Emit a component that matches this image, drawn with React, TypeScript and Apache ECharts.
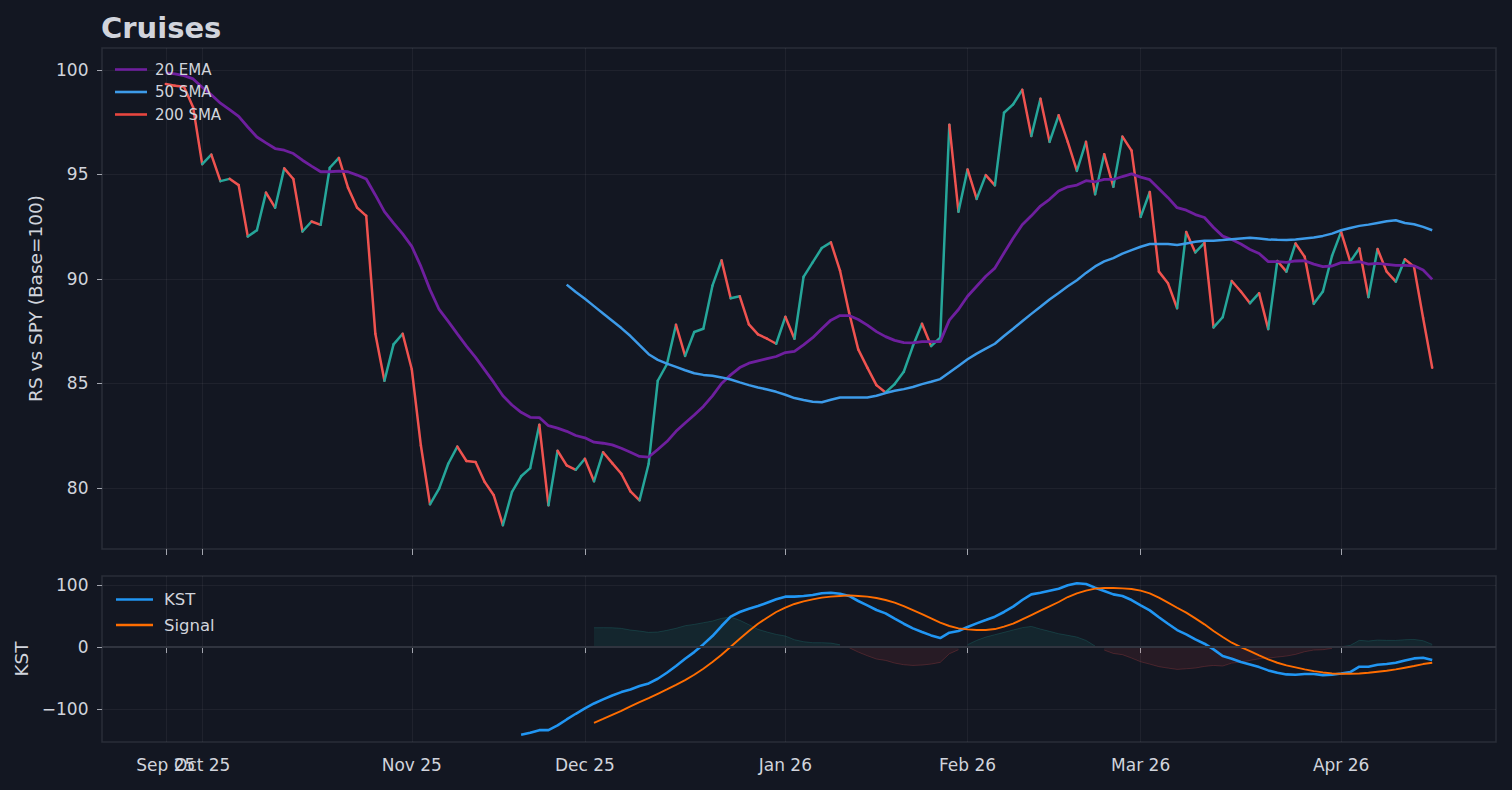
import React, { useEffect, useRef } from "react";
import * as echarts from "echarts";

// ---------- data (trading-day index 0 = first bar) ----------
const PAD = 7;
const N = 140;
const CATEGORIES = Array.from({ length: PAD + N + PAD }, (_, k) => `d${k - PAD}`);

const TICK_INDEX = [0, 4, 27, 46, 68, 88, 107, 129];
const TICK_LABELS = ["Sep 25", "Oct 25", "Nov 25", "Dec 25", "Jan 26", "Feb 26", "Mar 26", "Apr 26"];
const OVERLAP_TICK = 4; // "Oct 25" sits on top of "Sep 25"
const Y_TICKS_RS = [80, 85, 90, 95, 100];
const Y_TICKS_KST = [-100, 0, 100];

const RS = [
  99.33, 99.24, 99.2, 98.22, 95.49, 95.95, 94.68, 94.79, 94.49, 92.03,
  92.33, 94.13, 93.41, 95.29, 94.78, 92.27, 92.75, 92.59, 95.32, 95.79,
  94.37, 93.41, 93.02, 87.38, 85.13, 86.87, 87.38, 85.68, 82.03, 79.22,
  79.97, 81.16, 81.98, 81.29, 81.24, 80.29, 79.65, 78.22, 79.81, 80.56,
  80.95, 83.02, 79.17, 81.78, 81.08, 80.87, 81.4, 80.32, 81.71, 81.19,
  80.68, 79.84, 79.41, 81.16, 85.13, 85.92, 87.81, 86.32, 87.46, 87.62,
  89.68, 90.89, 89.08, 89.17, 87.83, 87.35, 87.14, 86.9, 88.19, 87.14,
  90.1, 90.79, 91.48, 91.75, 90.4, 88.38, 86.63, 85.76, 84.92, 84.57,
  84.97, 85.56, 86.79, 87.86, 86.79, 87.19, 97.38, 93.22, 95.24, 93.83,
  94.97, 94.48, 97.95, 98.35, 99.05, 96.84, 98.62, 96.56, 97.83, 96.56,
  95.17, 96.56, 94.05, 95.97, 94.41, 96.81, 96.14, 92.97, 94.16, 90.35,
  89.79, 88.6, 92.25, 91.27, 91.73, 87.68, 88.17, 89.9, 89.4, 88.84,
  89.32, 87.6, 90.86, 90.35, 91.7, 91.06, 88.81, 89.4, 91.1, 92.25,
  90.83, 91.46, 89.13, 91.43, 90.35, 89.87, 90.94, 90.59, 88.13, 85.75,
];

const EMA20 = [
  99.86, 99.81, 99.73, 99.57, 99.17, 98.81, 98.41, 98.1, 97.78, 97.27,
  96.79, 96.51, 96.24, 96.16, 96.0, 95.68, 95.4, 95.13, 95.13, 95.16,
  95.13, 94.97, 94.78, 94.02, 93.22, 92.67, 92.16, 91.56, 90.6, 89.49,
  88.54, 87.97, 87.37, 86.79, 86.25, 85.65, 85.05, 84.41, 83.97, 83.62,
  83.38, 83.37, 82.98, 82.86, 82.71, 82.51, 82.4, 82.19, 82.14, 82.06,
  81.9, 81.71, 81.51, 81.48, 81.84, 82.22, 82.71, 83.11, 83.49, 83.9,
  84.41, 85.0, 85.41, 85.76, 85.97, 86.08, 86.19, 86.29, 86.48, 86.54,
  86.85, 87.19, 87.62, 88.03, 88.25, 88.25, 88.06, 87.79, 87.48, 87.24,
  87.06, 86.95, 86.94, 87.0, 87.0, 87.0, 88.03, 88.54, 89.17, 89.65,
  90.13, 90.52, 91.24, 91.95, 92.59, 93.02, 93.49, 93.81, 94.21, 94.41,
  94.49, 94.7, 94.65, 94.76, 94.76, 94.9, 95.03, 94.87, 94.75, 94.32,
  93.89, 93.41, 93.29, 93.08, 92.94, 92.46, 92.05, 91.89, 91.67, 91.41,
  91.22, 90.83, 90.83, 90.79, 90.86, 90.87, 90.71, 90.59, 90.62, 90.78,
  90.78, 90.83, 90.71, 90.75, 90.7, 90.65, 90.65, 90.63, 90.43, 89.98,
];

const SMA50_START = 44;
const SMA50 = [
  89.73, 89.38, 89.05, 88.7, 88.35, 88.0, 87.65, 87.27, 86.83, 86.4,
  86.13, 85.95, 85.79, 85.63, 85.49, 85.41, 85.37, 85.29, 85.19, 85.05,
  84.92, 84.81, 84.71, 84.6, 84.46, 84.3, 84.21, 84.13, 84.1, 84.22,
  84.33, 84.33, 84.33, 84.33, 84.41, 84.54, 84.65, 84.73, 84.83, 84.97,
  85.08, 85.21, 85.52, 85.84, 86.16, 86.43, 86.67, 86.9, 87.27, 87.62,
  87.98, 88.33, 88.67, 89.02, 89.33, 89.65, 89.94, 90.29, 90.6, 90.84,
  91.0, 91.21, 91.38, 91.54, 91.67, 91.67, 91.67, 91.62, 91.7, 91.78,
  91.83, 91.83, 91.86, 91.9, 91.94, 91.97, 91.94, 91.89, 91.87, 91.86,
  91.89, 91.94, 91.98, 92.06, 92.17, 92.33, 92.44, 92.54, 92.6, 92.68,
  92.76, 92.81, 92.68, 92.62, 92.49, 92.33,
];

const SMA200: (number | null)[] = [];

const KST_START = 39;
const KST = [
  -141.4, -138.2, -133.9, -133.9, -126.3, -116.7, -107.5, -98.9, -90.9, -84.4,
  -78, -72.6, -68.3, -62.9, -58.6, -51.1, -41.4, -30.6, -18.8, -8.1,
  4.3, 17.7, 33.9, 48.9, 56.5, 61.8, 66.1, 71.5, 76.9, 81.2,
  81.2, 82.3, 83.9, 86.6, 87.6, 86, 82.3, 74.2, 67.2, 59.7,
  54.3, 45.7, 37.6, 30.1, 24.2, 18.8, 14.5, 23.1, 25.8, 32.3,
  38.2, 43.5, 48.9, 56.5, 65.1, 75.8, 84.9, 87.6, 90.9, 94.1,
  99.5, 102.7, 101.6, 95.7, 90.3, 84.9, 82.3, 75.8, 67.2, 59.1,
  48, 37.6, 27.4, 20.4, 12.4, 5.4, -3.8, -14.5, -18.8, -24.2,
  -28, -32.3, -37.6, -41.4, -44.1, -44.6, -43.5, -43.5, -45.2, -44.6,
  -42.5, -40.3, -31.7, -31.7, -28.5, -27.4, -25.3, -21.5, -18.3, -17.2,
  -21,
];

const SIGNAL_START = 47;
const SIGNAL = [
  -122, -115.6, -109.1, -102.7, -95.7, -88.7, -82.3, -75.3, -68.3, -60.8,
  -53.2, -44.6, -34.9, -24.2, -12.4, 0.5, 13.4, 25.8, 37.6, 47.3,
  56.5, 63.4, 69.4, 73.7, 76.9, 79.6, 81.2, 82.3, 83.3, 82.3,
  81.2, 79, 75.8, 71.5, 66.1, 59.7, 53.2, 46.2, 39.2, 33.9,
  30.1, 28.5, 27.4, 27.4, 29, 32.8, 37.6, 44.6, 51.6, 58.6,
  65.6, 72.6, 80.6, 86.6, 90.9, 94.1, 95.2, 95.2, 94.6, 93.5,
  90.9, 86.6, 79.6, 71.5, 63.4, 55.4, 46.2, 36.6, 25.8, 16.1,
  7, 0, -6.5, -13.4, -19.9, -25.3, -29.6, -32.8, -36, -38.7,
  -40.9, -42.5, -43, -43, -42.5, -41.4, -39.8, -38.2, -36, -33.3,
  -30.6, -27.4, -25.3,
];

// ---------- helpers ----------
function place(values: number[], start: number): (number | null)[] {
  const out: (number | null)[] = new Array(CATEGORIES.length).fill(null);
  values.forEach((v, k) => {
    out[PAD + start + k] = v;
  });
  return out;
}

const TICK_SET = new Set(TICK_INDEX.map((t) => t + PAD));
const tickLabelOf = (catIndex: number) => {
  const k = TICK_INDEX.indexOf(catIndex - PAD);
  return k >= 0 ? TICK_LABELS[k] : "";
};
const isTick = (index: number) => TICK_SET.has(index);
const isMainLabel = (index: number) => isTick(index) && index !== OVERLAP_TICK + PAD;
const isOverlapLabel = (index: number) => index === OVERLAP_TICK + PAD;

const UP = "#26a69a";
const DOWN = "#ef5350";
const FONT = "DejaVu Sans";
const TXT = "#d1d4dc";
const GRIDLINE = "rgba(255,255,255,0.05)";
const BORDER = "#2a2e39";
const TICKC = "#a3a6af";

function buildOption() {
  const segs = [];
  for (let i = 0; i < RS.length - 1; i++) {
    const up = RS[i + 1] >= RS[i];
    segs.push({
      coords: [
        [i + PAD, RS[i]],
        [i + 1 + PAD, RS[i + 1]],
      ],
      lineStyle: { color: up ? UP : DOWN },
    });
  }

  const kstFull = place(KST, KST_START);
  const sigFull = place(SIGNAL, SIGNAL_START);
  const pos: (number | null)[] = [];
  const neg: (number | null)[] = [];
  for (let k = 0; k < CATEGORIES.length; k++) {
    const a = kstFull[k];
    const b = sigFull[k];
    if (a == null || b == null) {
      pos.push(null);
      neg.push(null);
      continue;
    }
    const d = a - b;
    pos.push(d > 0 ? d : null);
    neg.push(d < 0 ? d : null);
  }

  const labelStyle = {
    formatter: (_v: string, index: number) => tickLabelOf(index),
    color: TXT,
    fontSize: 17,
    fontFamily: FONT,
    margin: 14,
    showMinLabel: true,
    showMaxLabel: true,
    hideOverlap: false,
  };

  const xBase = (gridIndex: number, showLabels: boolean) => ({
    type: "category",
    gridIndex,
    data: CATEGORIES,
    boundaryGap: false,
    position: "bottom",
    axisLine: { show: false },
    axisTick: {
      show: true,
      interval: (index: number) => isTick(index),
      length: 6,
      lineStyle: { color: TICKC, width: 1 },
    },
    axisLabel: {
      ...labelStyle,
      show: showLabels,
      interval: (index: number) => isMainLabel(index),
    },
    splitLine: {
      show: true,
      interval: (index: number) => isTick(index),
      lineStyle: { color: GRIDLINE, width: 1 },
    },
  });

  const xOverlap = {
    type: "category",
    gridIndex: 1,
    data: CATEGORIES,
    boundaryGap: false,
    position: "bottom",
    offset: 0,
    axisLine: { show: false },
    axisTick: { show: false },
    splitLine: { show: false },
    axisLabel: {
      ...labelStyle,
      show: true,
      interval: (index: number) => isOverlapLabel(index),
    },
  };

  const legendCommon = {
    orient: "vertical",
    padding: 0,
    icon: "rect",
    selectedMode: false,
  };

  return {
    animation: false,
    backgroundColor: "#131722",
    textStyle: { fontFamily: FONT },
    title: {
      text: "Cruises",
      left: 101,
      top: 13,
      padding: 0,
      textStyle: { color: TXT, fontSize: 29, fontWeight: "bold", fontFamily: FONT },
    },
    legend: [
      {
        ...legendCommon,
        data: ["20 EMA", "50 SMA", "200 SMA"],
        left: 115,
        top: 62,
        itemWidth: 32,
        itemHeight: 2.6,
        itemGap: 7.5,
        textStyle: { color: TXT, fontSize: 15, fontFamily: FONT, padding: [0, 0, 0, 3] },
      },
      {
        ...legendCommon,
        data: ["KST", "Signal"],
        left: 116,
        top: 591,
        itemWidth: 37,
        itemHeight: 2.4,
        itemGap: 8.5,
        textStyle: { color: TXT, fontSize: 16.5, fontFamily: FONT, padding: [0, 0, 0, 6] },
      },
    ],
    grid: [
      { left: 102, right: 16, top: 48, height: 501, show: true, borderColor: BORDER, borderWidth: 1.5, backgroundColor: "transparent" },
      { left: 102, right: 16, top: 576, height: 166, show: true, borderColor: BORDER, borderWidth: 1.5, backgroundColor: "transparent" },
    ],
    xAxis: [xBase(0, false), xBase(1, true), xOverlap],
    yAxis: [
      {
        type: "value",
        gridIndex: 0,
        min: 77.08,
        max: 101.05,
        splitNumber: 5,
        name: "RS vs SPY (Base=100)",
        nameLocation: "middle",
        nameGap: 56,
        nameTextStyle: { color: TXT, fontSize: 18.5, fontFamily: FONT },
        axisLine: { show: false },
        axisTick: { show: true, length: 5, lineStyle: { color: TICKC }, customValues: Y_TICKS_RS },
        axisLabel: {
          color: TXT,
          fontSize: 17,
          fontFamily: FONT,
          margin: 13.5,
          customValues: Y_TICKS_RS,
          formatter: (v: number) => String(Math.round(v)),
        },
        splitLine: { show: true, lineStyle: { color: GRIDLINE, width: 1 } },
      },
      {
        type: "value",
        gridIndex: 1,
        min: -153,
        max: 114.5,
        splitNumber: 3,
        name: "KST",
        nameLocation: "middle",
        nameGap: 67,
        nameTextStyle: { color: TXT, fontSize: 18.5, fontFamily: FONT },
        axisLine: { show: false },
        axisTick: { show: true, length: 5, lineStyle: { color: TICKC }, customValues: Y_TICKS_KST },
        axisLabel: {
          color: TXT,
          fontSize: 17,
          fontFamily: FONT,
          margin: 13.5,
          customValues: Y_TICKS_KST,
          formatter: (v: number) => (v < 0 ? "\u2212" + Math.abs(Math.round(v)) : String(Math.round(v))),
        },
        splitLine: { show: true, lineStyle: { color: GRIDLINE, width: 1 } },
      },
    ],
    series: [
      {
        name: "RS",
        type: "lines",
        coordinateSystem: "cartesian2d",
        xAxisIndex: 0,
        yAxisIndex: 0,
        polyline: false,
        silent: true,
        z: 2,
        lineStyle: { width: 2.5, opacity: 1, curveness: 0, cap: "round", join: "round" },
        data: segs,
      },
      {
        name: "20 EMA",
        type: "line",
        xAxisIndex: 0,
        yAxisIndex: 0,
        data: place(EMA20, 0),
        symbol: "none",
        z: 3,
        color: "#6e1f9e",
        lineStyle: { color: "#6e1f9e", width: 2.8 },
      },
      {
        name: "50 SMA",
        type: "line",
        xAxisIndex: 0,
        yAxisIndex: 0,
        data: place(SMA50, SMA50_START),
        symbol: "none",
        z: 4,
        color: "#3d9be9",
        lineStyle: { color: "#3d9be9", width: 2.5 },
      },
      {
        name: "200 SMA",
        type: "line",
        xAxisIndex: 0,
        yAxisIndex: 0,
        data: SMA200,
        symbol: "none",
        z: 4,
        color: "#e8463f",
        lineStyle: { color: "#e8463f", width: 2.5 },
      },
      {
        name: "diffPos",
        type: "line",
        xAxisIndex: 1,
        yAxisIndex: 1,
        data: pos,
        symbol: "none",
        silent: true,
        z: 1,
        lineStyle: { color: "rgba(38,166,154,0.22)", width: 1 },
        areaStyle: { color: "rgba(38,166,154,0.15)", origin: 0 },
        markLine: {
          silent: true,
          symbol: "none",
          label: { show: false },
          lineStyle: { color: "#30343f", width: 2, type: "solid" },
          data: [{ yAxis: 0 }],
        },
      },
      {
        name: "diffNeg",
        type: "line",
        xAxisIndex: 1,
        yAxisIndex: 1,
        data: neg,
        symbol: "none",
        silent: true,
        z: 1,
        lineStyle: { color: "rgba(239,83,80,0.22)", width: 1 },
        areaStyle: { color: "rgba(239,83,80,0.13)", origin: 0 },
      },
      {
        name: "KST",
        type: "line",
        xAxisIndex: 1,
        yAxisIndex: 1,
        data: kstFull,
        symbol: "none",
        z: 3,
        color: "#2196f3",
        lineStyle: { color: "#2196f3", width: 2.6 },
      },
      {
        name: "Signal",
        type: "line",
        xAxisIndex: 1,
        yAxisIndex: 1,
        data: sigFull,
        symbol: "none",
        z: 3,
        color: "#ff6d00",
        lineStyle: { color: "#ff6d00", width: 1.9 },
      },
    ],
  };
}

export default function App() {
  const ref = useRef<HTMLDivElement | null>(null);
  useEffect(() => {
    document.body.style.margin = "0";
    document.body.style.background = "#131722";
    if (!ref.current) return;
    const chart = echarts.init(ref.current, null, { renderer: "svg" });
    chart.setOption(buildOption() as any);
    return () => {
      chart.dispose();
    };
  }, []);
  return <div ref={ref} style={{ width: 1512, height: 790, background: "#131722" }} />;
}
